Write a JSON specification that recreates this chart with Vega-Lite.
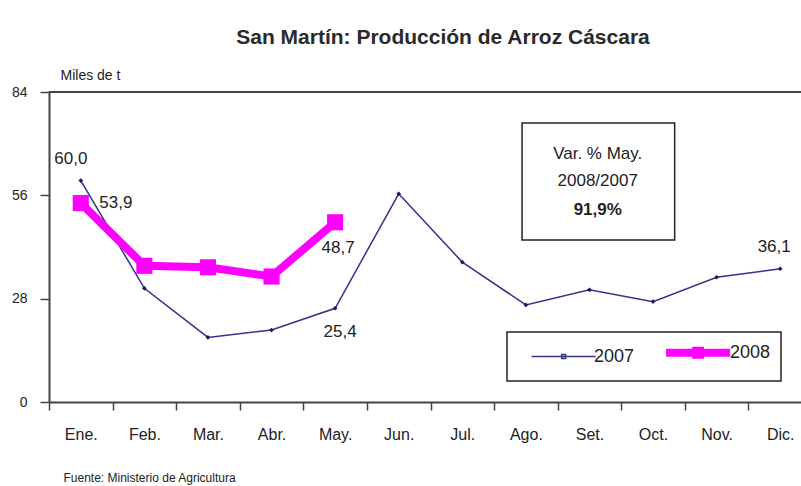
{
  "$schema": "https://vega.github.io/schema/vega-lite/v6.json",
  "width": 752,
  "height": 310,
  "autosize": {"type": "none"},
  "padding": {"left": 49, "top": 92, "right": 0, "bottom": 84},
  "background": "white",
  "config": {
    "font": "Liberation Sans, Arial, sans-serif",
    "view": {"stroke": null},
    "locale": {"number": {"decimal": ",", "thousands": ".", "grouping": [3], "currency": ["", ""]}}
  },
  "title": {"text": "San Martín: Producción de Arroz Cáscara", "fontSize": 21, "fontWeight": "bold", "color": "#2a2a2a", "anchor": "middle", "frame": "group", "dx": 18, "offset": 20},
  "datasets": {
    "prod": [
      {"mes": "Ene.", "serie": "2007", "valor": 60.0},
      {"mes": "Feb.", "serie": "2007", "valor": 30.8},
      {"mes": "Mar.", "serie": "2007", "valor": 17.5},
      {"mes": "Abr.", "serie": "2007", "valor": 19.5},
      {"mes": "May.", "serie": "2007", "valor": 25.4},
      {"mes": "Jun.", "serie": "2007", "valor": 56.4},
      {"mes": "Jul.", "serie": "2007", "valor": 37.9},
      {"mes": "Ago.", "serie": "2007", "valor": 26.3},
      {"mes": "Set.", "serie": "2007", "valor": 30.4},
      {"mes": "Oct.", "serie": "2007", "valor": 27.2},
      {"mes": "Nov.", "serie": "2007", "valor": 33.8},
      {"mes": "Dic.", "serie": "2007", "valor": 36.1},
      {"mes": "Ene.", "serie": "2008", "valor": 53.9},
      {"mes": "Feb.", "serie": "2008", "valor": 36.9},
      {"mes": "Mar.", "serie": "2008", "valor": 36.5},
      {"mes": "Abr.", "serie": "2008", "valor": 34.0},
      {"mes": "May.", "serie": "2008", "valor": 48.7}
    ]
  },
  "layer": [
    {
      "data": {"name": "prod"},
      "layer": [
        {
          "mark": {"type": "line"},
          "encoding": {
            "x": {"field": "mes", "type": "ordinal", "sort": null,
              "scale": {"type": "band", "domain": ["Ene.", "Feb.", "Mar.", "Abr.", "May.", "Jun.", "Jul.", "Ago.", "Set.", "Oct.", "Nov.", "Dic."], "paddingInner": 0, "paddingOuter": 0, "range": [0, 763]},
              "axis": {"title": "Fuente: Ministerio de Agricultura", "titleX": 14, "titleY": 75, "titleAlign": "left", "titleBaseline": "middle", "titleFontSize": 12, "titleFontWeight": "normal", "titleColor": "#222", "labelAngle": 0, "labelFontSize": 16, "labelColor": "#222", "labelPadding": 16, "labelBaseline": "top", "tickBand": "extent", "tickSize": 8, "tickWidth": 1.5, "tickColor": "#444", "domainColor": "#444", "domainWidth": 2}},
            "y": {"field": "valor", "type": "quantitative",
              "scale": {"domain": [0, 84], "nice": false},
              "axis": {"values": [0, 28, 56, 84], "grid": false, "title": "Miles de t", "titleAngle": 0, "titleAlign": "left", "titleBaseline": "middle", "titleX": 11, "titleY": -17, "titleFontSize": 14, "titleFontWeight": "normal", "titleColor": "#222", "labelFontSize": 14, "labelColor": "#222", "labelPadding": 13, "tickSize": 9, "tickWidth": 1.5, "tickColor": "#444", "domainColor": "#444", "domainWidth": 2}},
            "color": {"field": "serie", "type": "nominal",
              "scale": {"domain": ["2007", "2008"], "range": ["#33338a", "#ff00ff"]},
              "legend": {"orient": "none", "legendX": 458, "legendY": 240, "direction": "horizontal", "title": null, "strokeColor": "#222", "padding": 10, "symbolType": "M-1,0H9M3.7,-0.3h0.6v0.6h-0.6z", "symbolSize": 164, "symbolOffset": 12, "labelFontSize": 18, "labelColor": "#222", "labelOffset": 47, "columnPadding": 15,
                "encode": {"legend": {"update": {"strokeWidth": {"value": 1.5}}}}}},
            "strokeWidth": {"field": "serie", "type": "nominal",
              "scale": {"domain": ["2007", "2008"], "range": [1.5, 8]},
              "legend": {"orient": "none", "legendX": 458, "legendY": 240, "direction": "horizontal", "title": null, "strokeColor": "#222", "padding": 10, "symbolType": "M-1,0H9M3.7,-0.3h0.6v0.6h-0.6z", "symbolSize": 164, "symbolOffset": 12, "labelFontSize": 18, "labelColor": "#222", "labelOffset": 47, "columnPadding": 15,
                "encode": {"legend": {"update": {"strokeWidth": {"value": 1.5}}}}}}
          }
        },
        {
          "transform": [{"filter": "datum.serie === '2007'"}],
          "mark": {"type": "point", "shape": "diamond", "filled": true, "size": 22, "color": "#1a1a5e", "opacity": 1},
          "encoding": {
            "x": {"field": "mes", "type": "ordinal", "sort": null},
            "y": {"field": "valor", "type": "quantitative"}
          }
        },
        {
          "transform": [{"filter": "datum.serie === '2008'"}],
          "mark": {"type": "point", "shape": "square", "filled": true, "size": 260, "color": "#ff00ff", "opacity": 1},
          "encoding": {
            "x": {"field": "mes", "type": "ordinal", "sort": null},
            "y": {"field": "valor", "type": "quantitative"}
          }
        },
        {
          "transform": [{"filter": "datum.serie === '2007' && datum.mes === 'Ene.'"}],
          "mark": {"type": "text", "fontSize": 17, "color": "#222", "dx": -10, "dy": -22},
          "encoding": {
            "x": {"field": "mes", "type": "ordinal", "sort": null},
            "y": {"field": "valor", "type": "quantitative"},
            "text": {"field": "valor", "type": "quantitative", "format": ".1f"}
          }
        },
        {
          "transform": [{"filter": "datum.serie === '2008' && datum.mes === 'Ene.'"}],
          "mark": {"type": "text", "fontSize": 17, "color": "#222", "dx": 35, "dy": 0},
          "encoding": {
            "x": {"field": "mes", "type": "ordinal", "sort": null},
            "y": {"field": "valor", "type": "quantitative"},
            "text": {"field": "valor", "type": "quantitative", "format": ".1f"}
          }
        },
        {
          "transform": [{"filter": "datum.serie === '2008' && datum.mes === 'May.'"}],
          "mark": {"type": "text", "fontSize": 17, "color": "#222", "dx": 3, "dy": 26},
          "encoding": {
            "x": {"field": "mes", "type": "ordinal", "sort": null},
            "y": {"field": "valor", "type": "quantitative"},
            "text": {"field": "valor", "type": "quantitative", "format": ".1f"}
          }
        },
        {
          "transform": [{"filter": "datum.serie === '2007' && datum.mes === 'May.'"}],
          "mark": {"type": "text", "fontSize": 17, "color": "#222", "dx": 5, "dy": 24},
          "encoding": {
            "x": {"field": "mes", "type": "ordinal", "sort": null},
            "y": {"field": "valor", "type": "quantitative"},
            "text": {"field": "valor", "type": "quantitative", "format": ".1f"}
          }
        },
        {
          "transform": [{"filter": "datum.serie === '2007' && datum.mes === 'Dic.'"}],
          "mark": {"type": "text", "fontSize": 17, "color": "#222", "dx": -6, "dy": -22},
          "encoding": {
            "x": {"field": "mes", "type": "ordinal", "sort": null},
            "y": {"field": "valor", "type": "quantitative"},
            "text": {"field": "valor", "type": "quantitative", "format": ".1f"}
          }
        }
      ]
    },
    {
      "data": {"values": [{"x1": 7.44, "x2": 9.84, "valor": 75.6, "y2": 43.9}]},
      "layer": [
        {
          "mark": {"type": "rect", "fill": "white", "stroke": "#222", "strokeWidth": 1.5},
          "encoding": {
            "x": {"field": "x1", "type": "quantitative", "scale": {"domain": [0, 12], "range": [0, 763]}, "axis": null},
            "x2": {"field": "x2"},
            "y": {"field": "valor", "type": "quantitative"},
            "y2": {"field": "y2"}
          }
        },
        {
          "mark": {"type": "rule", "color": "#444", "strokeWidth": 2},
          "encoding": {"y": {"datum": 84, "type": "quantitative"}}
        }
      ]
    },
    {
      "data": {"values": [
        {"x": 8.63, "valor": 67.3, "t": "Var. % May.", "w": "normal"},
        {"x": 8.63, "valor": 60.0, "t": "2008/2007", "w": "normal"},
        {"x": 8.63, "valor": 52.0, "t": "91,9%", "w": "bold"}
      ]},
      "layer": [
        {
          "transform": [{"filter": "datum.w === 'normal'"}],
          "mark": {"type": "text", "fontSize": 17, "color": "#222", "align": "center", "baseline": "middle"},
          "encoding": {
            "x": {"field": "x", "type": "quantitative", "scale": {"domain": [0, 12], "range": [0, 763]}, "axis": null},
            "y": {"field": "valor", "type": "quantitative"},
            "text": {"field": "t"}
          }
        },
        {
          "transform": [{"filter": "datum.w === 'bold'"}],
          "mark": {"type": "text", "fontSize": 17, "fontWeight": "bold", "color": "#222", "align": "center", "baseline": "middle"},
          "encoding": {
            "x": {"field": "x", "type": "quantitative", "scale": {"domain": [0, 12], "range": [0, 763]}, "axis": null},
            "y": {"field": "valor", "type": "quantitative"},
            "text": {"field": "t"}
          }
        }
      ]
    }
  ],
  "resolve": {"scale": {"x": "independent"}, "axis": {"x": "independent"}}
}
